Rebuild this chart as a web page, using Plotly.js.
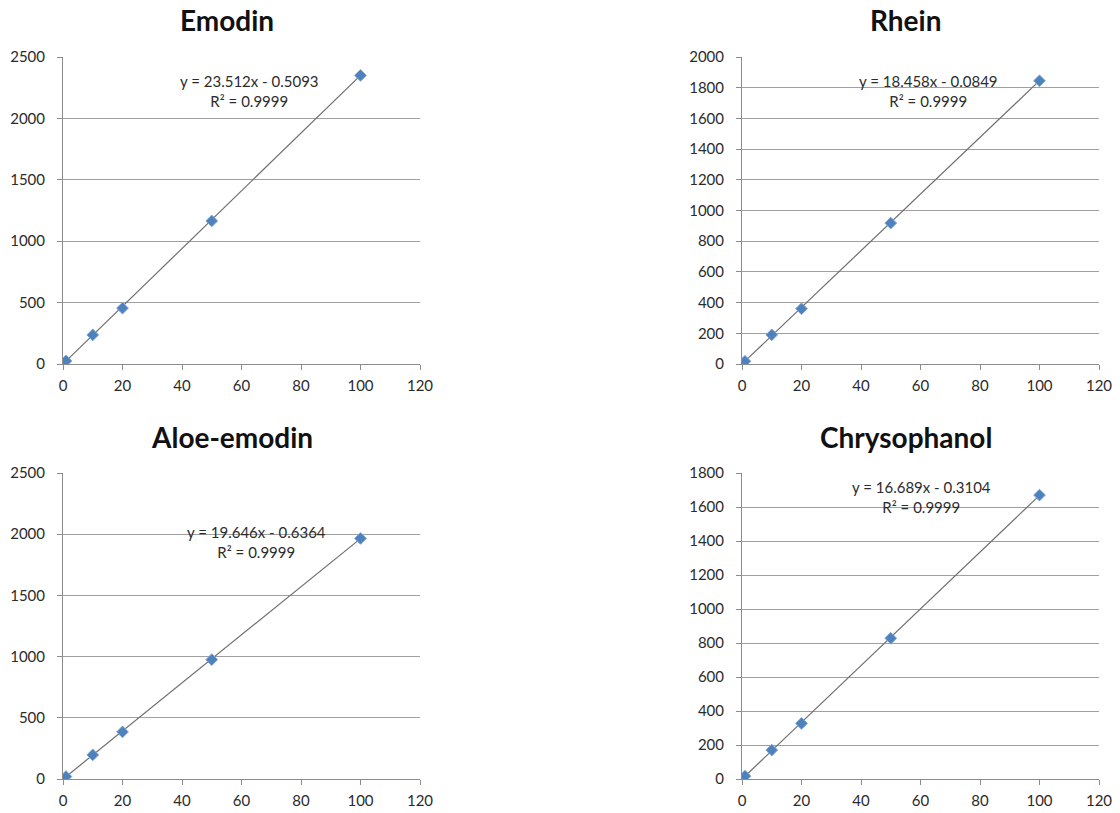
<!DOCTYPE html>
<html>
<head>
<meta charset="utf-8">
<script src="https://cdn.plot.ly/plotly-3.0.1.min.js"></script>
<style>
  html, body { margin: 0; padding: 0; background: #fff; }
  #chart { width: 1120px; height: 813px; }
</style>
</head>
<body>
<div id="chart"></div>
<script>
// concentrations (x) shared by all four calibration curves
const conc = [1, 10, 20, 50, 100]

const names = ["Emodin", "Rhein", "Aloe-emodin", "Chrysophanol"]
const emodin = [25, 237, 455, 1165, 2350]
const rhein = [18, 190, 360, 918, 1845]
const aloeEmodin = [20, 197, 385, 975, 1965]
const chrysophanol = [17, 170, 327, 828, 1670]

// fitted lines as printed on the chart
const slopes = [23.512, 18.458, 19.646, 16.689]
const intercepts = [-0.5093, -0.0849, -0.6364, -0.3104]
const r2 = ["0.9999", "0.9999", "0.9999", "0.9999"]
const yMax = [2500, 2000, 2500, 1800]
const yStep = [500, 200, 500, 200]

const series = [emodin, rhein, aloeEmodin, chrysophanol]

const W = 1120, H = 813
const px = (v) => v / W
const py = (v) => 1 - v / H

// subplot boxes in pixels [left, right, top, bottom]
const boxes = [
  [63, 420, 57, 364],
  [742, 1099, 57, 364],
  [63, 420, 473, 779],
  [742, 1099, 473, 779],
]
// title centre and equation centre in pixels
const titlePos = [[227, 20], [905, 20], [232, 437], [906, 437]]
const eqPos = [[249, 91], [928, 91], [256, 542], [921, 497]]

const font = "Lato, 'Open Sans', sans-serif"
const data = []
const layout = {
  width: W,
  height: H,
  margin: { l: 0, r: 0, t: 0, b: 0 },
  paper_bgcolor: "#fff",
  plot_bgcolor: "#fff",
  showlegend: false,
  font: { family: font, size: 15, color: "#2b2b2b" },
  annotations: [],
}

series.forEach((ys, i) => {
  const n = i + 1
  const xa = n === 1 ? "x" : "x" + n
  const ya = n === 1 ? "y" : "y" + n
  const xmin = conc[0], xmax = conc[conc.length - 1]

  data.push({
    x: [xmin, xmax],
    y: [slopes[i] * xmin + intercepts[i], slopes[i] * xmax + intercepts[i]],
    xaxis: xa, yaxis: ya,
    mode: "lines",
    line: { color: "#6e6e6e", width: 1.2 },
    hoverinfo: "skip",
  })
  data.push({
    x: conc,
    y: ys,
    xaxis: xa, yaxis: ya,
    mode: "markers",
    marker: { symbol: "diamond", size: 9, color: "#4f81bd", line: { color: "#7aa3d6", width: 1 } },
    name: names[i],
  })

  const [l, r, t, b] = boxes[i]
  const axisBase = {
    showline: true,
    linecolor: "#8c8c8c",
    linewidth: 1,
    ticks: "outside",
    ticklen: 5,
    tickcolor: "#8c8c8c",
    zeroline: false,
    tickfont: { family: font, size: 15, color: "#2b2b2b" },
    fixedrange: true,
  }
  layout["xaxis" + (n === 1 ? "" : n)] = {
    ...axisBase,
    domain: [px(l), px(r)],
    anchor: ya,
    range: [0, 120],
    dtick: 20,
    tick0: 0,
    showgrid: false,
    ticklabelstandoff: 3,
  }
  layout["yaxis" + (n === 1 ? "" : n)] = {
    ...axisBase,
    domain: [py(b), py(t)],
    anchor: xa,
    range: [0, yMax[i]],
    dtick: yStep[i],
    tick0: 0,
    showgrid: true,
    gridcolor: "#a0a0a0",
    gridwidth: 1,
    ticklabelstandoff: 9,
  }

  layout.annotations.push({
    xref: "paper", yref: "paper",
    x: px(titlePos[i][0]), y: py(titlePos[i][1]),
    xanchor: "center", yanchor: "middle",
    text: "<b>" + names[i] + "</b>",
    showarrow: false,
    font: { family: font, size: 28, color: "#111" },
  })
  const sign = intercepts[i] < 0 ? " - " : " + "
  layout.annotations.push({
    xref: "paper", yref: "paper",
    x: px(eqPos[i][0]), y: py(eqPos[i][1]),
    xanchor: "center", yanchor: "middle",
    text: "y = " + slopes[i] + "x" + sign + Math.abs(intercepts[i]) + "<br>R² = " + r2[i],
    showarrow: false,
    align: "center",
    font: { family: font, size: 15, color: "#2b2b2b" },
  })
})

Plotly.newPlot("chart", data, layout, { displayModeBar: false, staticPlot: true })
</script>
</body>
</html>
